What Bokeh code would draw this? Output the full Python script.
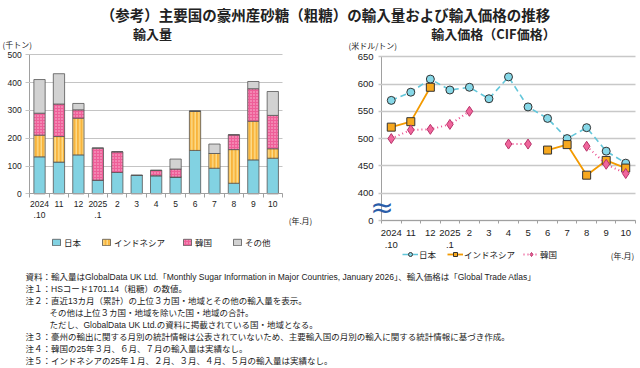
from bokeh.plotting import figure
from bokeh.models import (FixedTicker, Legend, LegendItem, ColumnDataSource, Range1d, LinearAxis)
from bokeh.core.properties import value
from bokeh.embed import file_html
from bokeh.resources import INLINE

nan = float("nan")

# ---------------- data ----------------
months = ["2024\n.10", "11", "12", "2025\n.1", "2", "3", "4", "5", "6", "7", "8", "9", "10"]

# import volume (thousand tonnes), stacked
vol_japan = [133, 114, 140, 49, 77, 66, 65, 60, 156, 92, 38, 122, 128]
vol_indonesia = [78, 92, 132, 0, 0, 0, 0, 0, 141, 53, 121, 139, 34]
vol_korea = [79, 117, 30, 115, 74, 0, 19, 29, 0, 0, 53, 117, 120]
vol_other = [121, 109, 23, 1, 0, 1, 1, 36, 0, 34, 0, 26, 86]

# import price CIF (USD/t)
price_japan = [570, 585, 609, 589, 594, 573, 613, 558, 537, 500, 520, 477, 455]
price_indonesia = [521, 531, 594, nan, nan, nan, nan, nan, 479, 489, 433, 460, 446]
price_korea = [500, 516, 517, 526, 550, nan, 490, 490, nan, nan, 486, 453, 436]

vol_ticks = [0, 100, 200, 300, 400, 500]
price_ticks = [400, 450, 500, 550, 600, 650]
price_zero_pos = 350  # where the "0" sits below the axis break

series_names = ["日本", "インドネシア", "韓国", "その他"]

main_title = "（参考）主要国の豪州産砂糖（粗糖）の輸入量および輸入価格の推移"
left_title = "輸入量"
right_title = "輸入価格（CIF価格）"
left_unit = "(千トン)"
right_unit = "(米ドル/トン)"
x_unit = "(年.月)"

notes = [
    "資料：輸入量はGlobalData UK Ltd.「Monthly Sugar Information in Major Countries, January 2026」、輸入価格は「Global Trade Atlas」",
    "注１：HSコード1701.14（粗糖）の数値。",
    "注２：直近13カ月（累計）の上位３カ国・地域とその他の輸入量を表示。",
    "その他は上位３カ国・地域を除いた国・地域の合計。",
    "ただし、GlobalData UK Ltd.の資料に掲載されている国・地域となる。",
    "注３：豪州の輸出に関する月別の統計情報は公表されていないため、主要輸入国の月別の輸入に関する統計情報に基づき作成。",
    "注４：韓国の25年３月、６月、７月の輸入量は実績なし。",
    "注５：インドネシアの25年１月、２月、３月、４月、５月の輸入量は実績なし。",
]
note_indent = [False, False, False, True, True, False, False, False]

JP = "Noto Sans CJK JP"
NUM = "Liberation Sans"
MIX = "Liberation Sans, Noto Sans CJK JP"
TXT = "#222222"

W, H = 640, 368


def xrange_px(d0, p0, d1, p1):
    k = (d1 - d0) / (p1 - p0)
    return Range1d(start=d0 - p0 * k, end=d0 + (W - p0) * k)


def yrange_px(d0, p0, d1, p1):
    k = (d1 - d0) / (p1 - p0)
    return Range1d(start=d0 + (H - p0) * k, end=d0 - p0 * k)


n = len(months)
xs = list(range(n))
bounds_ticks = [i - 0.5 for i in range(n + 1)]

# one canvas; primary ranges are page pixels (y down)
p = figure(width=W, height=H, x_range=Range1d(0, W), y_range=Range1d(H, 0),
           output_backend="svg", toolbar_location=None, min_border=0,
           x_axis_type=None, y_axis_type=None)
p.outline_line_color = None
p.background_fill_color = "white"
p.border_fill_color = "white"

# chart plot areas (pixel geometry)
p.extra_x_ranges = {
    "lx": xrange_px(-0.5, 29.3, n - 0.5, 282.0),
    "rx": xrange_px(-0.5, 381.0, n - 0.5, 635.0),
}
p.extra_y_ranges = {
    "ly": yrange_px(0, 193.3, 500, 54.3),
    "ry": yrange_px(price_zero_pos, 220.0, 650, 56.2),
}

# ---------------- titles ----------------
p.text(x=[325], y=[14], text=[main_title], text_font=value(JP),
       text_font_size="14.5px", text_font_style="bold", text_color=TXT,
       text_align="center", text_baseline="middle")
p.text(x=[152, 493], y=[33, 33], text=[left_title, right_title],
       text_font=value(JP), text_font_size="13px", text_font_style="bold",
       text_color=TXT, text_align="center", text_baseline="middle")

# ---------------- left chart: stacked bars ----------------
src = ColumnDataSource(dict(x=xs, japan=vol_japan, indonesia=vol_indonesia,
                            korea=vol_korea, other=vol_other))

ly_axis = LinearAxis(x_range_name="lx", y_range_name="ly", fixed_location=-0.5,
                     bounds=(0, 500), ticker=FixedTicker(ticks=vol_ticks),
                     major_tick_out=4, major_tick_in=253, minor_tick_out=0, minor_tick_in=0,
                     major_tick_line_color="#C4C4C4", major_tick_line_width=1.2,
                     axis_line_color="#A0A0A0", major_label_standoff=4,
                     major_label_text_font=NUM, major_label_text_font_size="8.5px",
                     major_label_text_color=TXT, level="underlay")
p.add_layout(ly_axis, "left")

bars = p.vbar_stack(["japan", "indonesia", "korea", "other"], x="x", width=0.58,
                    source=src, x_range_name="lx", y_range_name="ly",
                    fill_color=["#82D2E2", "#F8B43C", "#EE5E98", "#D2D2D2"],
                    hatch_pattern=[" ", "vertical_line", "dot", " "],
                    hatch_color=["#82D2E2", "#FDE39A", "#F9C3D8", "#D2D2D2"],
                    hatch_scale=[4, 3.5, 3, 4],
                    hatch_weight=[1, 1.2, 1, 1],
                    line_color="#555555", line_width=0.8)

lx_axis = LinearAxis(x_range_name="lx", y_range_name="ly", fixed_location=0,
                     bounds=(-0.5, n - 0.5),
                     ticker=FixedTicker(ticks=xs, minor_ticks=bounds_ticks),
                     major_label_overrides={i: m for i, m in enumerate(months)},
                     major_tick_out=0, major_tick_in=0, minor_tick_out=4, minor_tick_in=0,
                     axis_line_color="#A0A0A0", minor_tick_line_color="#A0A0A0",
                     major_label_standoff=1, major_label_text_font=NUM,
                     major_label_text_font_size="8.5px", major_label_text_line_height=1.16,
                     major_label_text_color=TXT)
p.add_layout(lx_axis, "below")

left_legend = Legend(items=[LegendItem(label=nm, renderers=[r]) for nm, r in zip(series_names, bars)],
                     orientation="horizontal", location=(51, H - 248),
                     background_fill_alpha=0, border_line_color=None, padding=0, margin=0,
                     spacing=17, glyph_width=10, glyph_height=8, label_standoff=3,
                     label_height=10, label_text_font=JP, label_text_font_size="8.5px",
                     label_text_color=TXT)
p.add_layout(left_legend)

# ---------------- right chart: price lines ----------------
psrc = ColumnDataSource(dict(x=xs, japan=price_japan, indonesia=price_indonesia, korea=price_korea))

ry_axis = LinearAxis(x_range_name="rx", y_range_name="ry", fixed_location=-0.5,
                     bounds=(price_zero_pos, 650),
                     ticker=FixedTicker(ticks=[price_zero_pos] + price_ticks),
                     major_label_overrides={price_zero_pos: "0"},
                     major_tick_out=3, major_tick_in=254, minor_tick_out=0, minor_tick_in=0,
                     major_tick_line_color="#C8C8C8", major_tick_line_width=1.5,
                     axis_line_color="#A0A0A0", major_label_standoff=5,
                     major_label_text_font=NUM, major_label_text_font_size="9.5px",
                     major_label_text_color=TXT, level="underlay")
p.add_layout(ry_axis, "left")

l_jp = p.line("x", "japan", source=psrc, x_range_name="rx", y_range_name="ry",
              line_color="#62C6DA", line_width=1.6, line_dash="6 4")
m_jp = p.scatter("x", "japan", source=psrc, x_range_name="rx", y_range_name="ry",
                 marker="circle", size=8, fill_color="#86D8E8", line_color="#333333", line_width=1)
l_id = p.line("x", "indonesia", source=psrc, x_range_name="rx", y_range_name="ry",
              line_color="#F39A00", line_width=1.8)
m_id = p.scatter("x", "indonesia", source=psrc, x_range_name="rx", y_range_name="ry",
                 marker="square", size=8, fill_color="#F7A81E", line_color="#333333", line_width=1)
l_kr = p.line("x", "korea", source=psrc, x_range_name="rx", y_range_name="ry",
              line_color="#EC4C8E", line_width=2, line_dash="1 3")
m_kr = p.scatter("x", "korea", source=psrc, x_range_name="rx", y_range_name="ry",
                 marker="diamond", size=10, fill_color="#F0669C", line_color="#B8336A", line_width=1)

rx_axis = LinearAxis(x_range_name="rx", y_range_name="ry", fixed_location=price_zero_pos,
                     bounds=(-0.5, n - 0.5),
                     ticker=FixedTicker(ticks=xs, minor_ticks=bounds_ticks),
                     major_label_overrides={i: m for i, m in enumerate(months)},
                     major_tick_out=0, major_tick_in=0, minor_tick_out=3, minor_tick_in=0,
                     axis_line_color="#A0A0A0", minor_tick_line_color="#A0A0A0",
                     major_label_standoff=3, major_label_text_font=NUM,
                     major_label_text_font_size="9.5px", major_label_text_line_height=1.15,
                     major_label_text_color=TXT)
p.add_layout(rx_axis, "below")

right_legend = Legend(items=[LegendItem(label="日本", renderers=[l_jp, m_jp]),
                             LegendItem(label="インドネシア", renderers=[l_id, m_id]),
                             LegendItem(label="韓国", renderers=[l_kr, m_kr])],
                      orientation="horizontal", location=(402, H - 260),
                      background_fill_alpha=0, border_line_color=None, padding=0, margin=0,
                      spacing=8, glyph_width=16, glyph_height=10, label_standoff=1,
                      label_height=10, label_text_font=JP, label_text_font_size="8.5px",
                      label_text_color=TXT)
p.add_layout(right_legend)

# ---------------- unit labels & axis break ----------------
p.text(x=[2, 348], y=[44, 45], text=[left_unit, right_unit], text_font=value(JP),
       text_font_size="8px", text_color=TXT, text_align="left", text_baseline="middle")
p.text(x=[300, 622], y=[220, 255], text=[x_unit, x_unit], text_font=value(JP),
       text_font_size="8px", text_color=TXT, text_align="center", text_baseline="middle")
p.text(x=[381.5], y=[207], text=["≈"], text_font=value("DejaVu Sans"),
       text_font_size="28px", text_color="#2B5DA8", text_align="center", text_baseline="middle")

# ---------------- notes ----------------
note_y = [276 + 12.1 * i for i in range(len(notes))]
note_x = [49 if ind else 25 for ind in note_indent]
p.text(x=note_x, y=note_y, text=notes, text_font=value(MIX), text_font_size="8.5px",
       text_color=TXT, text_align="left", text_baseline="middle")

with open("out.html", "w") as fh:
    fh.write(file_html(p, INLINE))
